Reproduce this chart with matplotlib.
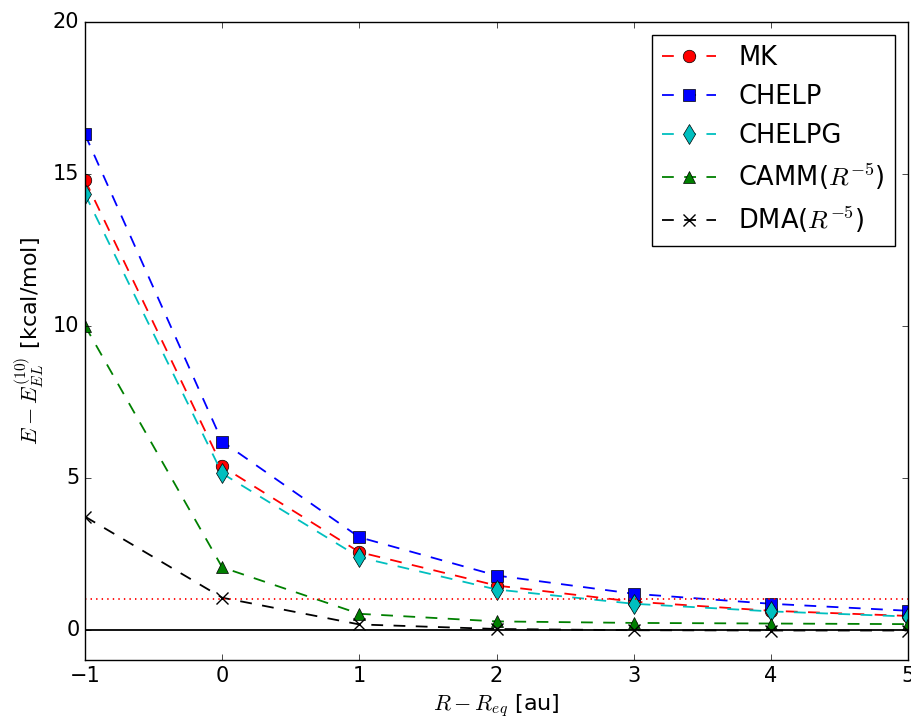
import numpy as np
import matplotlib
matplotlib.use("Agg")
import matplotlib.pyplot as plt

plt.style.use("classic")

# distancias relativas al equilibrio
dist = [-1, 0, 1, 2, 3, 4, 5]

# errores de cada modelo [kcal/mol]
mk = [14.8, 5.37, 2.55, 1.45, 0.92, 0.62, 0.45]
chelp = [16.3, 6.19, 3.04, 1.78, 1.18, 0.85, 0.62]
chelpg = [14.33, 5.14, 2.38, 1.32, 0.85, 0.6, 0.43]
camm = [10.0, 2.05, 0.52, 0.27, 0.22, 0.2, 0.18]
dma = [3.72, 1.05, 0.17, 0.02, -0.02, -0.03, -0.03]

fig = plt.figure(figsize=(9.11, 7.22), dpi=100)
ax = fig.add_axes([0.0933, 0.0859, 0.9035, 0.8836])

ms = 9
lw = 1.3
dsh = (8.5, 7.5)
ax.plot(dist, mk, "r--", lw=lw, dashes=dsh, marker="o", ms=ms, label="MK")
ax.plot(dist, chelp, "b--", lw=lw, dashes=dsh, marker="s", ms=ms, label="CHELP")
ax.plot(dist, chelpg, "c--", lw=lw, dashes=dsh, marker="d", ms=ms + 1, label="CHELPG")
ax.plot(dist, camm, "g--", lw=lw, dashes=dsh, marker="^", ms=ms, label=r"CAMM($R^{-5}$)")
ax.plot(dist, dma, "k--", lw=lw, dashes=dsh, marker="x", ms=ms, mew=1, label=r"DMA($R^{-5}$)")

ax.axhline(0, color="k", lw=1.3)
ax.axhline(1, color="r", ls=":", lw=1.3)

ax.set_xlim(-1, 5)
ax.set_ylim(-1, 20)
ax.set_yticks([0, 5, 10, 15, 20])
ax.tick_params(labelsize=15)
ax.set_xlabel(r"$R-R_{eq}$ [au]", fontsize=16)
ax.set_ylabel(r"$E-E_{EL}^{(10)}$ [kcal/mol]", fontsize=16)

ax.legend(loc="upper right", fontsize=18.5, numpoints=1, handlelength=2.1,
          handletextpad=0.85, borderaxespad=0.5, labelspacing=0.5)

fig.savefig("out.png", dpi=100)
